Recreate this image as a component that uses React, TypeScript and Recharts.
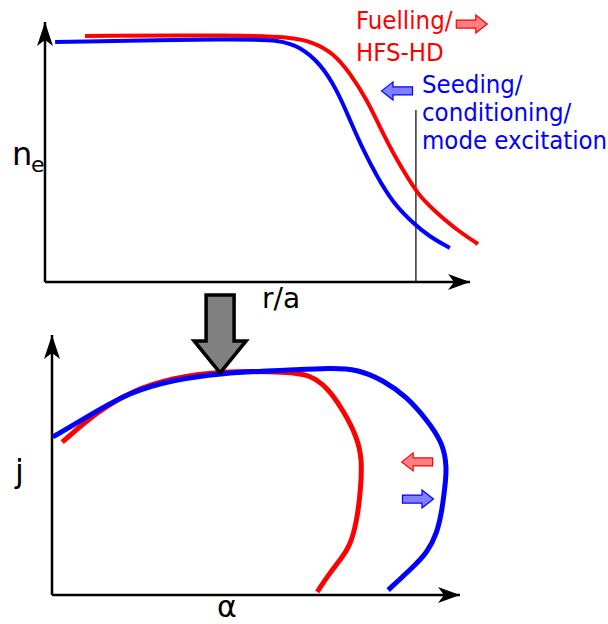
import React from 'react';
import { LineChart, Line, XAxis, YAxis, ReferenceLine, ReferenceDot } from 'recharts';

// top panel: n_e profile vs r/a (arbitrary units)
const NE_R_BLUE = [0.023, 0.443, 0.534, 0.58, 0.625, 0.664, 0.693, 0.723, 0.755, 0.791, 0.836, 0.875, 0.92];
const NE_BLUE = [0.923, 0.935, 0.931, 0.904, 0.842, 0.738, 0.623, 0.508, 0.404, 0.304, 0.227, 0.173, 0.131];
const NE_R_RED = [0.091, 0.443, 0.557, 0.609, 0.655, 0.693, 0.732, 0.761, 0.791, 0.823, 0.852, 0.891, 0.936, 0.984];
const NE_RED = [0.946, 0.95, 0.942, 0.923, 0.881, 0.804, 0.7, 0.596, 0.496, 0.404, 0.327, 0.265, 0.2, 0.146];

// bottom panel: j-alpha stability boundary
const ALPHA_BLUE = [0.002, 0.093, 0.191, 0.297, 0.412, 0.583, 0.681, 0.748, 0.811, 0.87, 0.919, 0.958, 0.968, 0.963, 0.956, 0.944, 0.919, 0.885, 0.824];
const J_BLUE = [0.608, 0.692, 0.781, 0.827, 0.854, 0.865, 0.873, 0.869, 0.827, 0.762, 0.673, 0.585, 0.492, 0.415, 0.327, 0.238, 0.162, 0.108, 0.019];
const ALPHA_RED = [0.025, 0.11, 0.199, 0.297, 0.412, 0.583, 0.632, 0.674, 0.713, 0.748, 0.76, 0.757, 0.748, 0.73, 0.706, 0.681, 0.65];
const J_RED = [0.588, 0.704, 0.788, 0.835, 0.862, 0.858, 0.846, 0.8, 0.712, 0.608, 0.519, 0.415, 0.288, 0.185, 0.135, 0.085, 0.012];

const RED = '#ff0000';
const BLUE = '#0000ff';
const FONT = "'DejaVu Sans', sans-serif";
const NOTE_FONT = "'DejaVu Sans Condensed', 'DejaVu Sans', sans-serif";

const zip = (xs: number[], ys: number[]) => xs.map((x, i) => ({ x, y: ys[i] }));

const neBlue = zip(NE_R_BLUE, NE_BLUE);
const neRed = zip(NE_R_RED, NE_RED);
const jBlue = zip(ALPHA_BLUE, J_BLUE);
const jRed = zip(ALPHA_RED, J_RED);

const arrowUp = ({ cx, cy }: any) => (
  <path d={`M${cx},${cy} L${cx + 8},${cy + 24} L${cx},${cy + 18} L${cx - 8},${cy + 24} Z`} fill="#000" />
);
const arrowRight = ({ cx, cy }: any) => (
  <path d={`M${cx},${cy} L${cx - 22},${cy - 8} L${cx - 16},${cy} L${cx - 22},${cy + 8} Z`} fill="#000" />
);

// small block arrow, d = 1 right, -1 left
const blockArrow = (d: number, fill: string, stroke: string) => ({ cx, cy }: any) => {
  const p = (x: number, y: number) => `${cx + x * d},${cy + y}`;
  return (
    <path
      d={`M${p(-15.5, -4)} L${p(4, -4)} L${p(4, -9)} L${p(15.5, 0)} L${p(4, 9)} L${p(4, 4)} L${p(-15.5, 4)} Z`}
      fill={fill}
      stroke={stroke}
      strokeWidth={1.2}
    />
  );
};

// big grey arrow, tip at (cx, cy)
const greyArrow = ({ cx, cy }: any) => (
  <path
    d={`M${cx},${cy} L${cx - 26},${cy - 32} L${cx - 14},${cy - 32} L${cx - 14},${cy - 78} L${cx + 14},${cy - 78} L${cx + 14},${cy - 32} L${cx + 26},${cy - 32} Z`}
    fill="#808080"
    stroke="#000"
    strokeWidth={3.5}
    strokeLinejoin="miter"
  />
);

function TopPanel() {
  return (
    <LineChart width={608} height={300} margin={{ top: 22, right: 123, bottom: 18, left: 45 }}>
      <XAxis dataKey="x" type="number" domain={[0, 1]} hide />
      <YAxis dataKey="y" type="number" domain={[0, 1]} hide />
      <ReferenceLine segment={[{ x: 0, y: 0 }, { x: 0.966, y: 0 }]} stroke="#000" strokeWidth={2.5} ifOverflow="visible" />
      <ReferenceLine segment={[{ x: 0, y: 0 }, { x: 0, y: 1 }]} stroke="#000" strokeWidth={2.5} ifOverflow="visible" />
      <ReferenceLine segment={[{ x: 0.843, y: 0 }, { x: 0.843, y: 0.662 }]} stroke="#000" strokeWidth={1.2} ifOverflow="visible" />
      <ReferenceDot x={0} y={1} r={1} shape={arrowUp} ifOverflow="visible" />
      <ReferenceDot x={0.966} y={0} r={1} shape={arrowRight} ifOverflow="visible" />
      <Line data={neRed} dataKey="y" type="basis" stroke={RED} strokeWidth={4} dot={false} isAnimationActive={false} />
      <Line data={neBlue} dataKey="y" type="basis" stroke={BLUE} strokeWidth={4} dot={false} isAnimationActive={false} />
      <ReferenceDot x={0.97} y={0.992} r={1} shape={blockArrow(1, '#ff8080', RED)} ifOverflow="visible" />
      <ReferenceDot x={0.8} y={0.735} r={1} shape={blockArrow(-1, '#8080ff', BLUE)} ifOverflow="visible" />
    </LineChart>
  );
}

function BottomPanel() {
  return (
    <LineChart width={608} height={339} margin={{ top: 50, right: 148, bottom: 29, left: 52 }}>
      <XAxis dataKey="x" type="number" domain={[0, 1]} hide />
      <YAxis dataKey="y" type="number" domain={[0, 1]} hide />
      <ReferenceLine segment={[{ x: 0, y: 0 }, { x: 1, y: 0 }]} stroke="#000" strokeWidth={2.5} ifOverflow="visible" />
      <ReferenceLine segment={[{ x: 0, y: 0 }, { x: 0, y: 1 }]} stroke="#000" strokeWidth={2.5} ifOverflow="visible" />
      <ReferenceDot x={0} y={1} r={1} shape={arrowUp} ifOverflow="visible" />
      <ReferenceDot x={1} y={0} r={1} shape={arrowRight} ifOverflow="visible" />
      <Line data={jRed} dataKey="y" type="basis" stroke={RED} strokeWidth={5} dot={false} isAnimationActive={false} />
      <Line data={jBlue} dataKey="y" type="basis" stroke={BLUE} strokeWidth={5} dot={false} isAnimationActive={false} />
      <ReferenceDot x={0.895} y={0.512} r={1} shape={blockArrow(-1, '#ff8080', RED)} ifOverflow="visible" />
      <ReferenceDot x={0.897} y={0.369} r={1} shape={blockArrow(1, '#8080ff', BLUE)} ifOverflow="visible" />
      <ReferenceDot x={0.412} y={0.854} r={1} shape={greyArrow} ifOverflow="visible" />
    </LineChart>
  );
}

export default function App() {
  return (
    <div style={{ position: 'absolute', left: 0, top: 0, width: 608, height: 624, background: '#fff' }}>
      <div style={{ position: 'absolute', left: 0, top: 0 }}>
        <TopPanel />
      </div>
      <div style={{ position: 'absolute', left: 0, top: 285 }}>
        <BottomPanel />
      </div>
      <svg width={608} height={624} style={{ position: 'absolute', left: 0, top: 0, pointerEvents: 'none' }}>
        <g fontFamily={NOTE_FONT} fontSize={25.5}>
          <text x={356} y={29} fill={RED}>Fuelling/</text>
          <text x={356} y={61} fill={RED}>HFS-HD</text>
          <text x={422} y={93} fill={BLUE}>Seeding/</text>
          <text x={422} y={121} fill={BLUE}>conditioning/</text>
          <text x={422} y={149} fill={BLUE}>mode excitation</text>
        </g>
        <g fontFamily={FONT} fill="#000">
          <text x={12} y={165} fontSize={32}>n</text>
          <text x={31} y={172} fontSize={22}>e</text>
          <text x={262} y={308} fontSize={28}>r/a</text>
          <text x={15} y={482} fontSize={32}>j</text>
          <text x={217} y={617} fontSize={30}>α</text>
        </g>
      </svg>
    </div>
  );
}
